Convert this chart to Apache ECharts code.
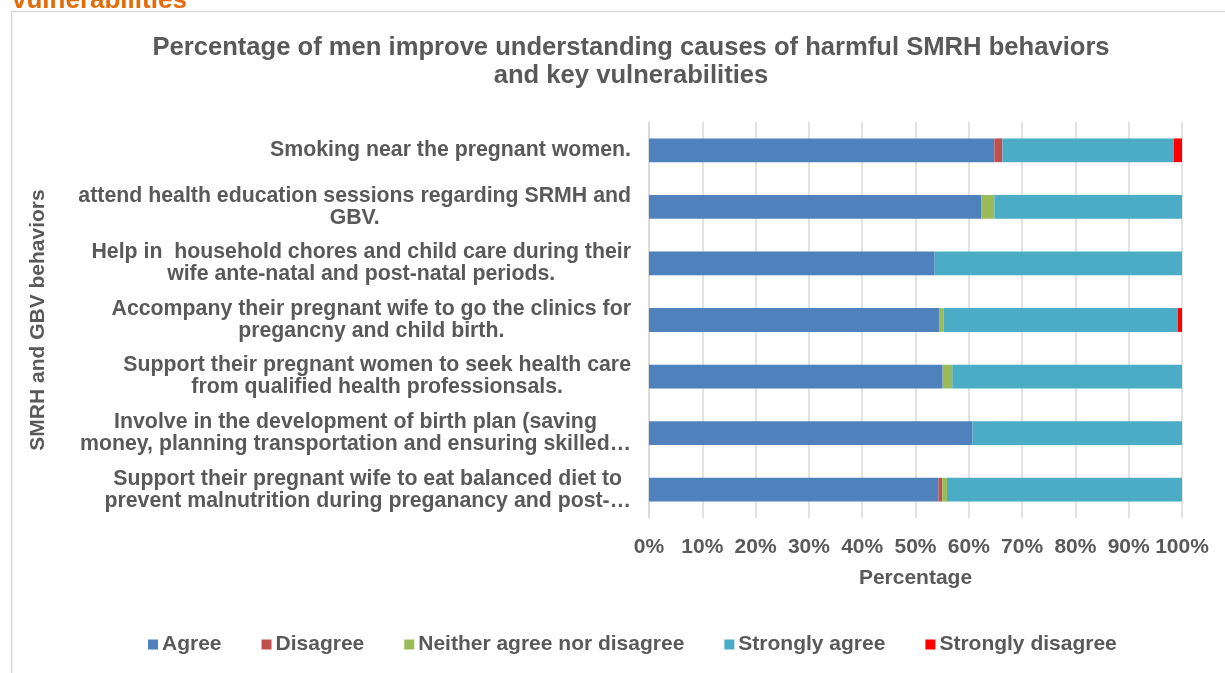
<!DOCTYPE html>
<html>
<head>
<meta charset="utf-8">
<script src="https://cdn.jsdelivr.net/npm/echarts@6/dist/echarts.min.js"></script>
<style>
  html, body { margin: 0; padding: 0; background: #ffffff; }
  #chart { width: 1225px; height: 673px; }
</style>
</head>
<body>
<div id="chart"></div>
<script>
// Behaviour statements (top to bottom)
const categories = [
  'Smoking near the pregnant women.',
  'attend health education sessions regarding SRMH and\nGBV.',
  'Help in  household chores and child care during their\nwife ante-natal and post-natal periods.',
  'Accompany their pregnant wife to go the clinics for\npregancny and child birth.',
  'Support their pregnant women to seek health care\nfrom qualified health professionsals.',
  'Involve in the development of birth plan (saving\nmoney, planning transportation and ensuring skilled…',
  'Support their pregnant wife to eat balanced diet to\nprevent malnutrition during preganancy and post-…'
];

// Share of respondents per answer (%)
const agree            = [64.8, 62.3, 53.6, 54.4, 55.1, 60.7, 54.3];
const disagree         = [1.5, 0, 0, 0, 0, 0, 0.7];
const neither          = [0, 2.5, 0, 0.9, 1.8, 0, 0.9];
const stronglyAgree    = [32.2, 35.2, 46.4, 43.9, 43.1, 39.3, 44.1];
const stronglyDisagree = [1.5, 0, 0, 0.8, 0, 0, 0];

const seriesNames  = ['Agree', 'Disagree', 'Neither agree nor disagree', 'Strongly agree', 'Strongly disagree'];
const seriesValues = [agree, disagree, neither, stronglyAgree, stronglyDisagree];
const seriesColors = ['#4F81BD', '#C0504D', '#9BBB59', '#4BACC6', '#FF0000'];

const xTicks = { min: 0, max: 100, interval: 10 };

const FONT = '"Liberation Sans", Arial, sans-serif';
const TEXT = '#595959';
const GRID_LINE = '#D9D9D9';
const FS = 21;

const chart = echarts.init(document.getElementById('chart'), null, { renderer: 'canvas' });

chart.setOption({
  animation: false,
  backgroundColor: '#ffffff',
  textStyle: { fontFamily: FONT },
  graphic: [
    {
      type: 'rect',
      shape: { x: 11.5, y: 11.5, width: 1400, height: 900 },
      style: { fill: 'none', stroke: '#D9D9D9', lineWidth: 1.5 },
      silent: true
    },
    {
      // section heading running off the top edge
      type: 'text',
      x: 12,
      y: -12,
      style: {
        text: 'vulnerabilities',
        fill: '#E36C09',
        font: 'bold 26px ' + FONT,
        verticalAlign: 'top'
      },
      silent: true
    }
  ],
  title: {
    text: 'Percentage of men improve understanding causes of harmful SMRH behaviors\nand key vulnerabilities',
    left: 626,
    top: 29,
    textAlign: 'center',
    textStyle: {
      fontFamily: FONT,
      fontSize: 25.6,
      fontWeight: 'bold',
      color: TEXT,
      lineHeight: 28
    }
  },
  legend: {
    data: seriesNames,
    left: 143,
    top: 629,
    icon: 'rect',
    itemWidth: 10,
    itemHeight: 10,
    itemGap: 40,
    textStyle: { fontFamily: FONT, fontSize: FS, fontWeight: 'bold', color: TEXT, padding: [0, 0, 0, -1] }
  },
  grid: {
    left: 649,
    right: 43,
    top: 122,
    height: 396,
    containLabel: false
  },
  xAxis: {
    type: 'value',
    min: xTicks.min,
    max: xTicks.max,
    interval: xTicks.interval,
    name: 'Percentage',
    nameLocation: 'middle',
    nameGap: 50,
    nameTextStyle: { fontFamily: FONT, fontSize: FS, fontWeight: 'bold', color: TEXT },
    axisLine: { show: false },
    axisTick: { show: false },
    axisLabel: {
      formatter: '{value}%',
      margin: 19,
      fontFamily: FONT,
      fontSize: FS,
      fontWeight: 'bold',
      color: TEXT
    },
    splitLine: { show: true, lineStyle: { color: GRID_LINE, width: 1.5 } }
  },
  yAxis: {
    type: 'category',
    data: categories,
    inverse: true,
    name: 'SMRH and GBV behaviors',
    nameLocation: 'middle',
    nameGap: 600,
    nameRotate: 90,
    nameTextStyle: { fontFamily: FONT, fontSize: FS, fontWeight: 'bold', color: TEXT },
    axisLine: { show: true, lineStyle: { color: GRID_LINE, width: 1.5 } },
    axisTick: { show: false },
    axisLabel: {
      margin: 18,
      align: 'right',
      formatter: function (value) {
        return value.split('\n').map(function (l) { return '{c|' + l + '}'; }).join('\n');
      },
      rich: {
        c: {
          align: 'center',
          fontFamily: FONT,
          fontSize: 21.3,
          fontWeight: 'bold',
          color: TEXT,
          lineHeight: 22
        }
      }
    },
    splitLine: { show: false }
  },
  series: seriesNames.map(function (name, i) {
    return {
      name: name,
      type: 'bar',
      stack: 'total',
      data: seriesValues[i],
      barWidth: '42%',
      itemStyle: { color: seriesColors[i] },
      emphasis: { disabled: true }
    };
  })
});
</script>
</body>
</html>
